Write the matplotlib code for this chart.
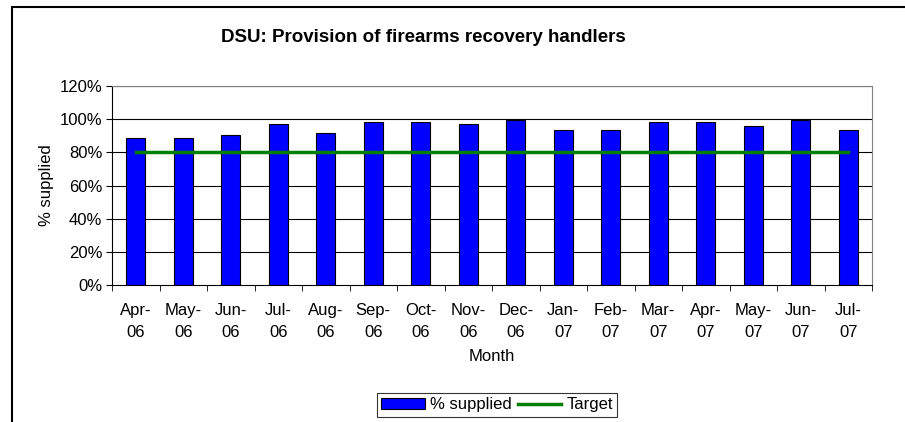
import numpy as np
import matplotlib.pyplot as plt
from matplotlib.patches import Rectangle

plt.rcParams['font.family'] = ['Liberation Sans', 'DejaVu Sans']

# data
months = ['Apr-\n06', 'May-\n06', 'Jun-\n06', 'Jul-\n06', 'Aug-\n06', 'Sep-\n06', 'Oct-\n06', 'Nov-\n06',
          'Dec-\n06', 'Jan-\n07', 'Feb-\n07', 'Mar-\n07', 'Apr-\n07', 'May-\n07', 'Jun-\n07', 'Jul-\n07']
supplied = [88.6, 88.6, 90.2, 97.2, 91.8, 98.0, 98.0, 97.2,
            99.4, 93.2, 93.2, 98.0, 98.0, 95.6, 99.4, 93.2]
target = [80] * len(months)
yticks = [0, 20, 40, 60, 80, 100, 120]

x = np.arange(len(months))

fig = plt.figure(figsize=(9.05, 4.22), dpi=100)
ax = fig.add_axes([112 / 905, 1 - 285 / 422, 760 / 905, 199 / 422])

# outer chart border (left and top visible)
fig.add_artist(Rectangle((12 / 905, -0.1), 2, 1.1 - 6.5 / 422, transform=fig.transFigure,
                         fill=False, edgecolor='black', linewidth=1.5))

for t in yticks[1:]:
    ax.axhline(t, color='black', linewidth=0.8, zorder=0)

bars = ax.bar(x, supplied, width=0.39, color='#0000ff', edgecolor='black', linewidth=0.8,
              label='% supplied', zorder=2)
line, = ax.plot(x, target, color='#008000', linewidth=2.5, label='Target', zorder=3)

ax.set_xlim(-0.5, len(months) - 0.5)
ax.set_ylim(0, 120)
ax.set_yticks(yticks)
ax.set_yticklabels([f'{t}%' for t in yticks], fontsize=12)
ax.set_xticks(x)
ax.set_xticklabels(months, fontsize=12, linespacing=1.6)
ax.set_xticks(np.arange(len(months) + 1) - 0.5, minor=True)
ax.tick_params(axis='x', which='major', length=0, pad=13)
ax.tick_params(axis='x', which='minor', length=4, direction='out', color='black')
ax.tick_params(axis='y', length=4, direction='out', pad=3)
for s in ['left', 'bottom']:
    ax.spines[s].set_color('black')
for s in ['top', 'right']:
    ax.spines[s].set_color('#808080')

ax.set_ylabel('% supplied', fontsize=12, labelpad=4)
ax.set_xlabel('Month', fontsize=12, labelpad=6)
fig.text(423 / 905, 1 - 38 / 422, 'DSU: Provision of firearms recovery handlers',
         ha='center', va='center', fontsize=13.5, fontweight='bold')

leg = fig.legend([bars, line], ['% supplied', 'Target'], loc='center',
                 bbox_to_anchor=(497 / 905, 1 - 405 / 422), ncol=2,
                 fontsize=12, frameon=True, fancybox=False, edgecolor='black',
                 handlelength=2.6, handleheight=0.6, handletextpad=0.3, columnspacing=0.4,
                 borderpad=0.25)
leg.get_frame().set_linewidth(0.8)

fig.savefig('out.png', dpi=100)
